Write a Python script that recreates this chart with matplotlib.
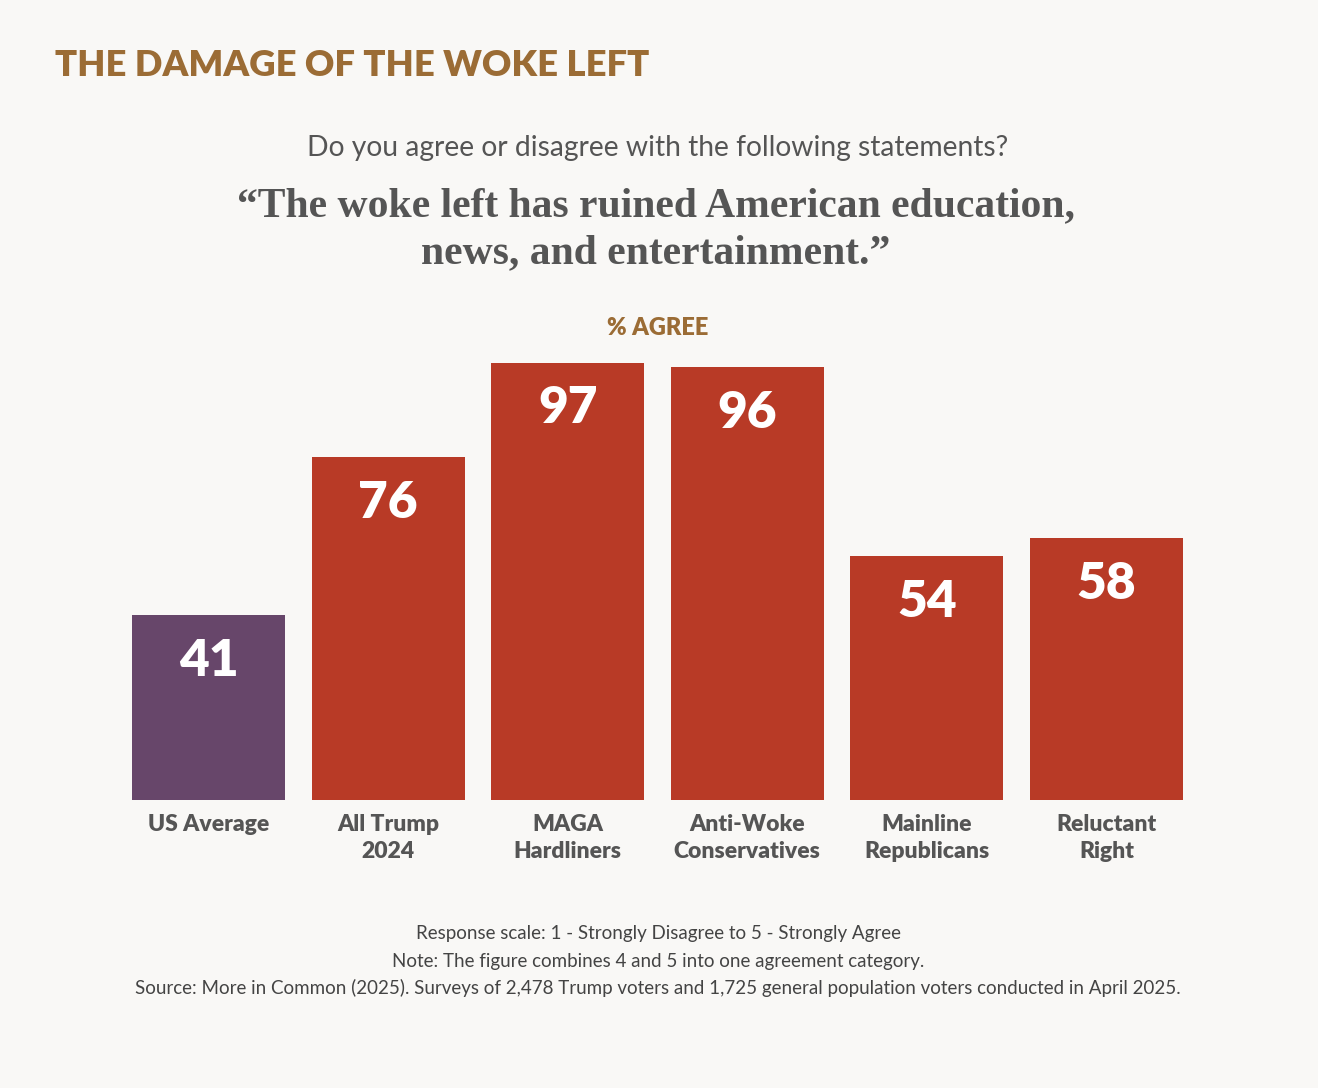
import matplotlib
matplotlib.use("Agg")
import matplotlib.pyplot as plt

# data
categories = ["US Average", "All Trump\n2024", "MAGA\nHardliners",
              "Anti-Woke\nConservatives", "Mainline\nRepublicans", "Reluctant\nRight"]
agree_pct = [41, 76, 97, 96, 54, 58]
bar_colors = ["#67466A", "#B83A26", "#B83A26", "#B83A26", "#B83A26", "#B83A26"]

notes = [
    "Response scale: 1 - Strongly Disagree to 5 - Strongly Agree",
    "Note: The figure combines 4 and 5 into one agreement category.",
    "Source: More in Common (2025). Surveys of 2,478 Trump voters and 1,725 general population voters conducted in April 2025.",
]

BG = "#F9F8F6"
BROWN = "#9B6C35"
GREY = "#555555"
W, H = 1318, 1088

fig = plt.figure(figsize=(W / 100, H / 100), dpi=100, facecolor=BG)

# axes placed in pixel terms: bars 0..5, baseline at y=800px, 4.51 px per point
left, right = 118.7, 1196.3
bottom_px, top_px = 800, 800 - 451
ax = fig.add_axes([left / W, 1 - bottom_px / H, (right - left) / W, (bottom_px - top_px) / H])
ax.set_facecolor(BG)
x = range(len(categories))
ax.bar(x, agree_pct, width=0.852, color=bar_colors)
ax.set_xlim(-0.5, 5.5)
ax.set_ylim(0, 100)
for s in ax.spines.values():
    s.set_visible(False)
ax.set_yticks([])
ax.set_xticks(list(x))
ax.set_xticklabels(categories, fontfamily="Lato", fontweight="heavy", fontsize=16.5,
                   color=GREY, linespacing=1.35)
ax.tick_params(axis="x", length=0, pad=10)

for xi, v in zip(x, agree_pct):
    ax.annotate(str(v), (xi, v), xytext=(0, -33), textcoords="offset points",
                ha="center", va="center", color="white", fontsize=37,
                fontfamily="Lato", fontweight="heavy")


def fy(px):
    return 1 - px / H


fig.text(55 / W, fy(66), "THE DAMAGE OF THE WOKE LEFT", fontfamily="Lato",
         fontweight="heavy", fontsize=26.2, color=BROWN, ha="left", va="center")
fig.text(658 / W, fy(148), "Do you agree or disagree with the following statements?",
         fontfamily="Lato", fontsize=20.3, color=GREY, ha="center", va="center")
fig.text(656 / W, fy(206), "\u201cThe woke left has ruined American education,",
         fontfamily="Liberation Serif", fontweight="bold", fontsize=30, color=GREY,
         ha="center", va="center")
fig.text(656 / W, fy(253), "news, and entertainment.\u201d",
         fontfamily="Liberation Serif", fontweight="bold", fontsize=30, color=GREY,
         ha="center", va="center")
fig.text(658 / W, fy(328), "% AGREE", fontfamily="Lato", fontweight="heavy",
         fontsize=17, color=BROWN, ha="center", va="center")

for i, line in enumerate(notes):
    fig.text(658 / W, fy(934 + 27 * i), line, fontfamily="Lato", fontsize=13.5,
             color="#444444", ha="center", va="center")

fig.savefig("out.png", dpi=100, facecolor=BG)
